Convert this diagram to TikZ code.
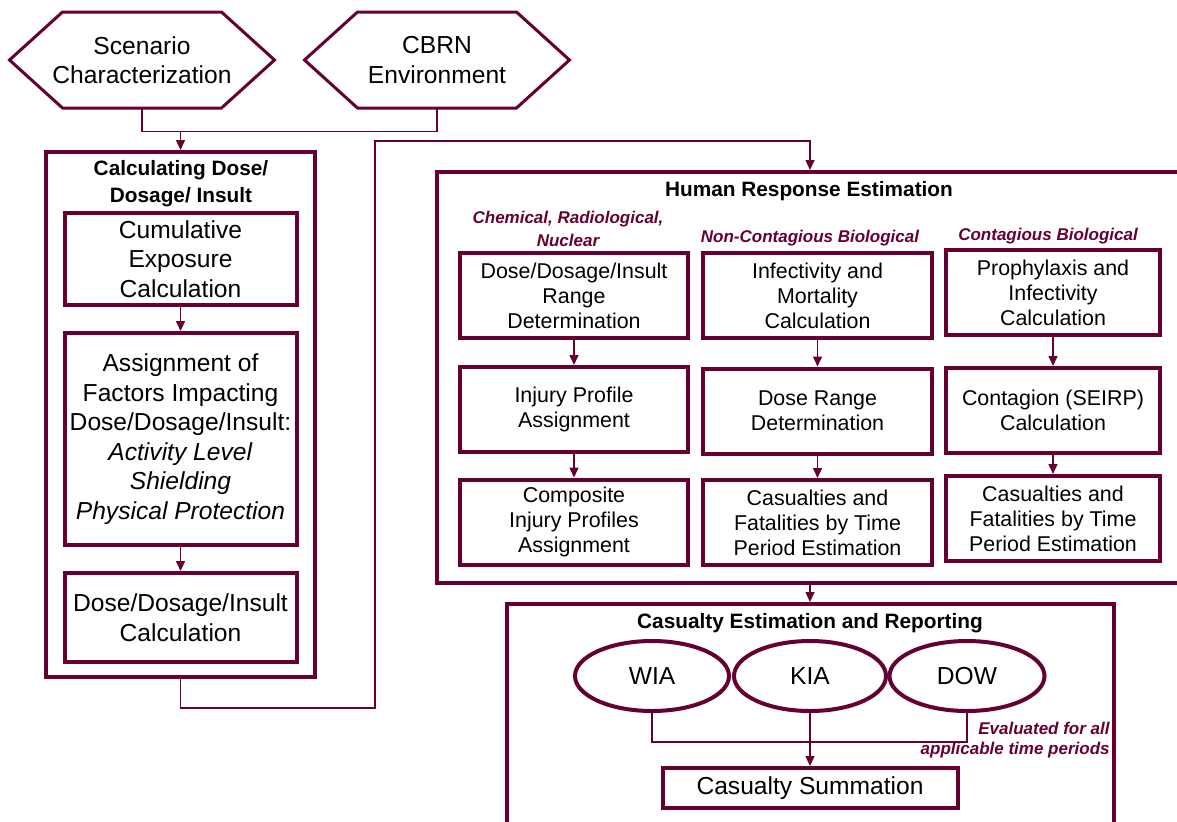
\documentclass[tikz,border=0pt]{standalone}
\usepackage{fontspec}
\setmainfont{Liberation Sans}
\usetikzlibrary{arrows.meta, positioning, calc, shapes.geometric}
\definecolor{CbrnMaroon}{RGB}{102, 0, 51}

\newcommand{\boxfont}{\fontsize{12.3}{14.75}\selectfont}
\newcommand{\hrfont}{\fontsize{10.7}{12.5}\selectfont}
\newcommand{\headfont}{\fontsize{10.4}{13.5}\selectfont\bfseries}
\newcommand{\catfont}{\fontsize{8.5}{11.5}\selectfont\bfseries\itshape}

\begin{document}
\begin{tikzpicture}[x=0.5pt, y=-0.5pt,
    every node/.style={inner sep=0pt, align=center},
    box/.style={draw=CbrnMaroon, line width=2pt},
    hrbox/.style={box, font=\hrfont, minimum height=42.5pt},
    oval/.style={draw=CbrnMaroon, line width=2pt, ellipse, minimum height=35pt, font=\boxfont},
    cat/.style={font=\catfont, text=CbrnMaroon},
    hexline/.style={draw=CbrnMaroon, line width=1.5pt, line join=miter},
    conn/.style={draw=CbrnMaroon, line width=0.75pt},
    arr/.style={conn, -{Triangle[length=5pt, width=4.5pt]}}]
  \useasboundingbox (0,0) rectangle (1177,821);
  \clip (0,0) rectangle (1177,821);
  \fill[white] (0,0) rectangle (1177,821);

  % inputs (hexagons drawn round the text nodes)
  \node[minimum height=48pt, font=\boxfont] (scenario) at (142,60) {Scenario\\Characterization};
  \node[minimum height=48pt, font=\boxfont] (cbrn) at (437,60) {CBRN\\Environment};
  \foreach \h in {scenario, cbrn}
    \draw[hexline] ($(\h)+(-79.5,-48)$) -- ++(159,0) -- ++(53,48) -- ++(-53,48)
      -- ++(-159,0) -- ++(-53,-48) -- cycle;

  % dose / dosage / insult column
  \node[box, minimum width=134.5pt, minimum height=262.5pt] (dosecalc) at (180.5,414.5) {};
  \node[font=\headfont] (dosetitle) at (181,184) {Calculating Dose/\\Dosage/ Insult};
  \node[box, minimum width=116pt, minimum height=46pt, font=\boxfont] (cumexp) at (180.5,259) {Cumulative\\Exposure\\Calculation};
  \node[box, minimum width=116pt, minimum height=106pt, font=\boxfont] (factors) at (180.5,439)
    {Assignment of\\Factors Impacting\\Dose/Dosage/Insult:\\\textit{Activity Level}\\\textit{Shielding}\\\textit{Physical Protection}};
  \node[box, minimum width=116pt, minimum height=44.5pt, font=\boxfont] (doseins) at (180.5,617.5) {Dose/Dosage/Insult\\Calculation};

  % human response estimation
  \node[box, minimum width=373pt, minimum height=205.5pt] (humresp) at (810,377.5) {};
  \node[font=\headfont] (hrtitle) at (809,191) {Human Response Estimation};
  \node[cat] (catcrn) at (568,229) {Chemical, Radiological,\\Nuclear};
  \node[cat] (catncb) at (810,238) {Non-Contagious Biological};
  \node[cat] (catcb) at (1048,236) {Contagious Biological};

  \node[hrbox, minimum width=114pt] (crn1) at (574,295.5) {Dose/Dosage/Insult\\Range\\Determination};
  \node[hrbox, minimum width=114pt] (crn2) at (574,409.5) {Injury Profile\\Assignment};
  \node[hrbox, minimum width=114pt] (crn3) at (574,522) {Composite\\Injury Profiles\\Assignment};
  \node[hrbox, minimum width=114.5pt] (ncb1) at (817.5,295.5) {Infectivity and\\Mortality\\Calculation};
  \node[hrbox, minimum width=114.5pt] (ncb2) at (817.5,411) {Dose Range\\Determination};
  \node[hrbox, minimum width=114.5pt] (ncb3) at (817.5,522.5) {Casualties and\\Fatalities by Time\\Period Estimation};
  \node[hrbox, minimum width=107pt] (cb1) at (1053,292.5) {Prophylaxis and\\Infectivity\\Calculation};
  \node[hrbox, minimum width=107pt] (cb2) at (1053,410.5) {Contagion (SEIRP)\\Calculation};
  \node[hrbox, minimum width=107pt] (cb3) at (1053,518.5) {Casualties and\\Fatalities by Time\\Period Estimation};

  % casualty estimation and reporting
  \node[box, minimum width=303.5pt, minimum height=123pt] (casest) at (810,727) {};
  \node[font=\headfont] (castitle) at (810,623) {Casualty Estimation and Reporting};
  \node[oval, minimum width=77pt] (wia) at (652,676) {WIA};
  \node[oval, minimum width=76pt] (kia) at (810,676) {KIA};
  \node[oval, minimum width=77.5pt] (dow) at (967,676) {DOW};
  \node[box, minimum width=147.5pt, minimum height=20pt, font=\boxfont] (casum) at (810,788) {Casualty Summation};
  \node[text=CbrnMaroon, font=\fontsize{8.5}{10}\selectfont\bfseries\itshape, align=right, anchor=east] (evalnote) at (1110,740)
    {Evaluated for all\\applicable time periods};

  % connectors
  \coordinate (topjoin) at (180.5,131);
  \coordinate (lowbend) at (375,708);
  \coordinate (highbend) at (375,141);
  \draw[conn] (scenario.south) -- ++(0,23) -| (cbrn.south);
  \draw[arr] (topjoin) -- (dosecalc.north);
  \draw[arr] (cumexp.south) -- (factors.north);
  \draw[arr] (factors.south) -- (doseins.north);
  \draw[arr] (dosecalc.south) |- (lowbend) -- (highbend) -| (humresp.north);
  \foreach \col in {crn, ncb, cb} {
    \draw[arr] (\col1.south) -- (\col2.north);
    \draw[arr] (\col2.south) -- (\col3.north);
  }
  \draw[arr] (humresp.south) -- (casest.north);
  \draw[conn] (wia.south) -- ++(0,29) -| (dow.south);
  \draw[arr] (kia.south) -- (casum.north);
\end{tikzpicture}
\end{document}
